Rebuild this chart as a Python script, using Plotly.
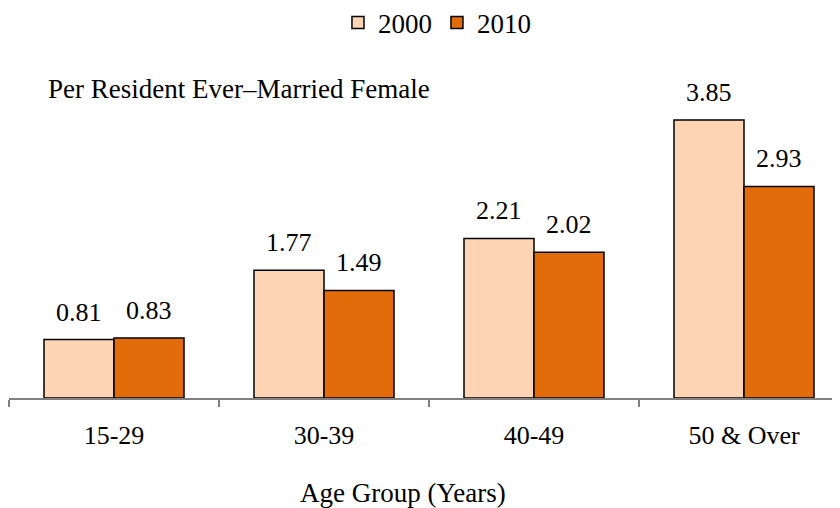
import plotly.graph_objects as go

categories = ["15-29", "30-39", "40-49", "50 & Over"]
values_2000 = [0.81, 1.77, 2.21, 3.85]
values_2010 = [0.83, 1.49, 2.02, 2.93]
series_names = ["2000", "2010"]
note_text = "Per Resident Ever\u2013Married Female"
x_title = "Age Group (Years)"

font_family = "Liberation Serif, Times New Roman, serif"
FS = 26
colors = ["#FDD4B4", "#E36C0A"]

# page body has an 8px margin: figure is sized to fit the window
W, H = 832, 500
ML, MR, MT, MB = 1, 0, 29, 110
plot_w = W - ML - MR
plot_h = H - MT - MB

fig = go.Figure()
for name, vals, col in zip(series_names, [values_2000, values_2010], colors):
    fig.add_trace(go.Bar(
        x=list(range(len(categories))), y=vals, name=name,
        marker=dict(color=col, line=dict(color="#000000", width=1.5)),
    ))

ann = []
offsets = [-1/6, 1/6]
for off, vals in zip(offsets, [values_2000, values_2010]):
    for i, v in enumerate(vals):
        ann.append(dict(
            x=i + off, y=v, xref="x", yref="y", text=f"{v:.2f}",
            showarrow=False, yanchor="bottom", yshift=11,
            font=dict(size=FS, color="#000000", family=font_family),
        ))

def py(fig_y):
    return (MT + plot_h - fig_y) / plot_h

ann.append(dict(
    text=note_text, x=(38 - ML) / plot_w, y=py(81),
    xref="paper", yref="paper", showarrow=False,
    font=dict(size=27), xanchor="left", yanchor="middle",
))
ann.append(dict(
    text=x_title, x=(395 - ML) / plot_w, y=py(485),
    xref="paper", yref="paper", showarrow=False,
    font=dict(size=27), xanchor="center", yanchor="middle",
))

fig.update_layout(
    width=W, height=H,
    margin=dict(l=ML, r=MR, t=MT, b=MB, autoexpand=False),
    paper_bgcolor="white", plot_bgcolor="white",
    barmode="group", bargap=1/3, bargroupgap=0,
    font=dict(family=font_family, size=FS, color="#000000"),
    legend=dict(orientation="h", x=0.515, xanchor="center", y=py(15), yanchor="middle",
                font=dict(size=27), itemwidth=30, traceorder="normal"),
    showlegend=True,
    xaxis=dict(
        tickmode="array", tickvals=list(range(len(categories))), ticktext=categories,
        range=[-0.5, -0.5 + plot_w / 210],
        showline=True, linecolor="#808080", linewidth=1.5,
        ticks="", showgrid=False, zeroline=False, ticklabelstandoff=13,
        tickfont=dict(size=FS), automargin=False,
        minor=dict(tickmode="array", tickvals=[-0.5, 0.5, 1.5, 2.5, 3.5],
                   ticks="outside", ticklen=7, tickcolor="#808080", tickwidth=1.5),
    ),
    yaxis=dict(range=[0, 5], visible=False, showgrid=False, automargin=False),
    annotations=ann,
)

fig.write_html("out.html")
